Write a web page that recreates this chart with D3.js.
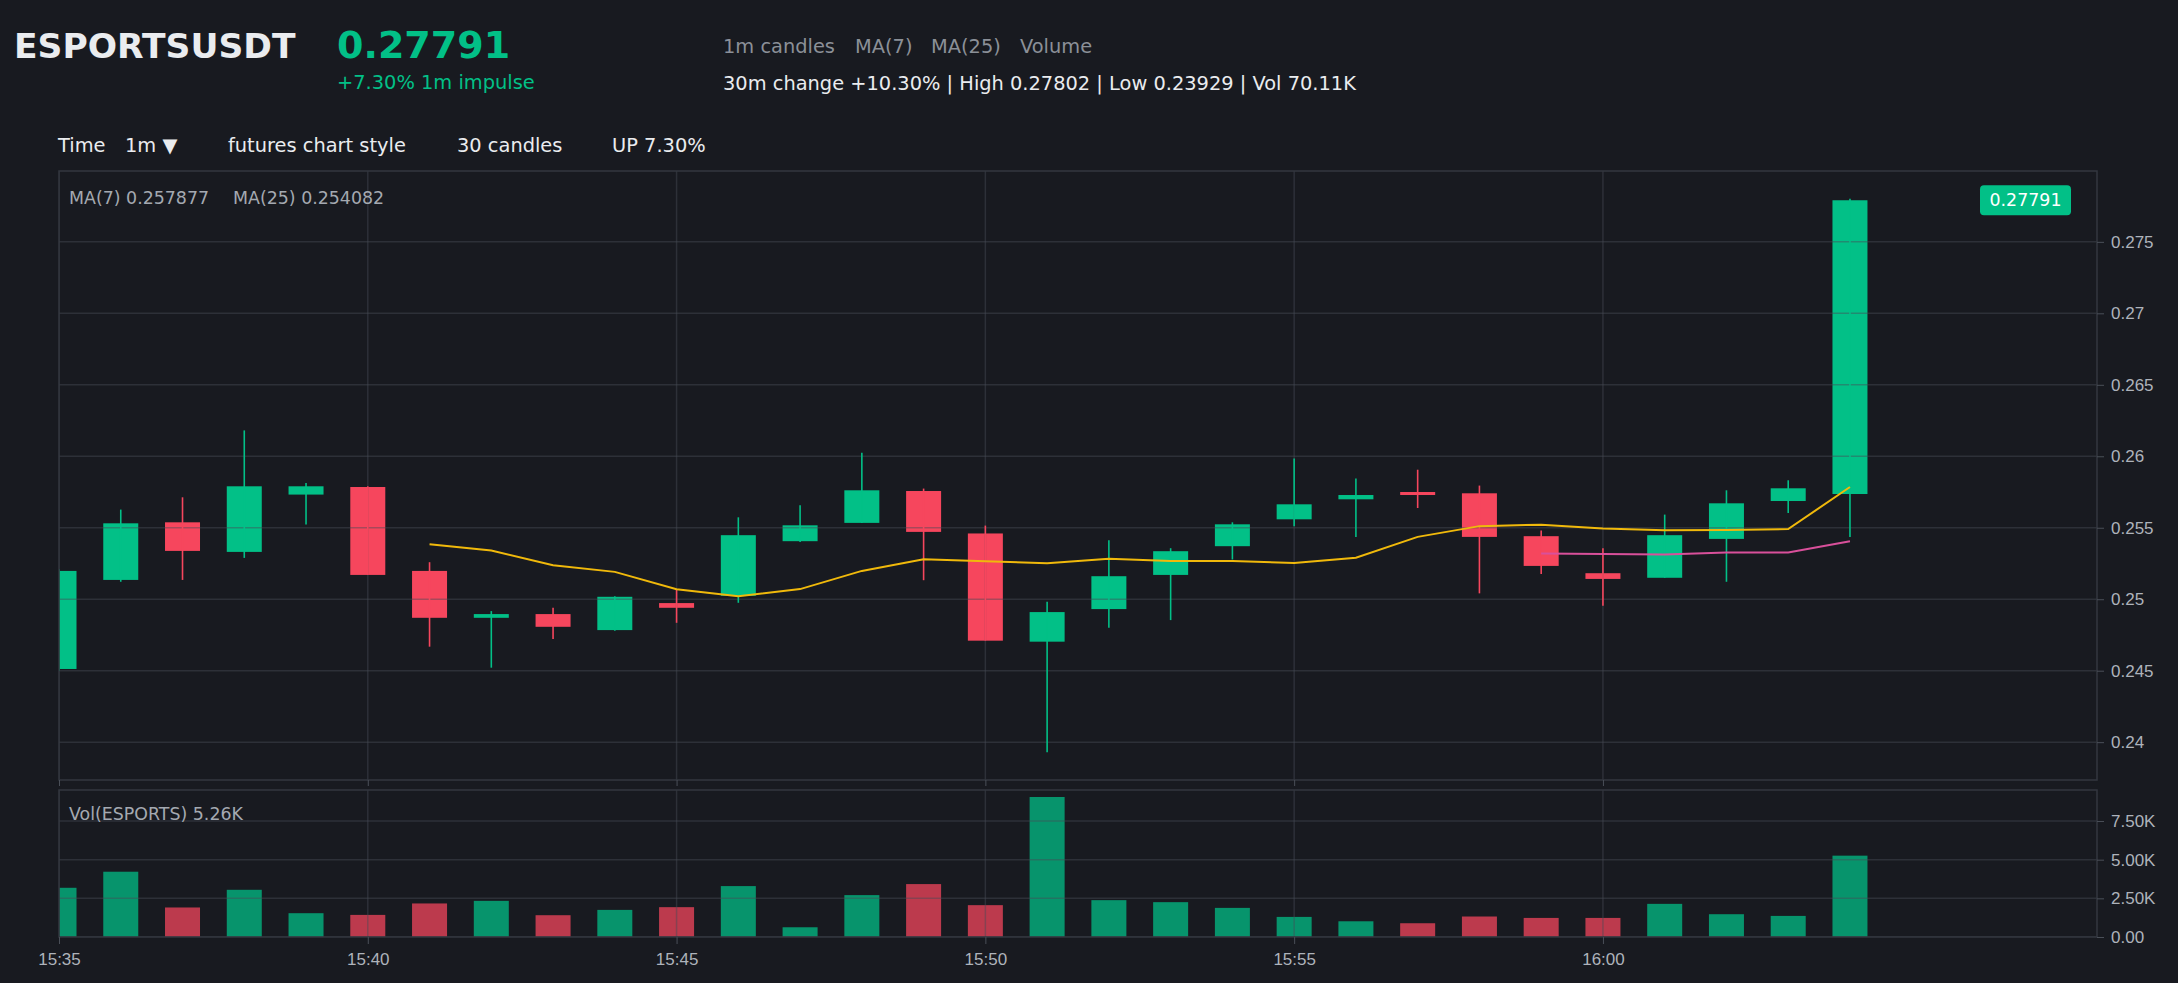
<!DOCTYPE html>
<html lang="en">
<head>
<meta charset="utf-8">
<title>ESPORTSUSDT 1m</title>
<script src="https://d3js.org/d3.v7.min.js"></script>
<style>
  html, body { margin: 0; padding: 0; background: #181a20; }
  svg { display: block; font-family: "DejaVu Sans", sans-serif; }
  .axis path { display: none; }
  .axis line { stroke: #4a4f58; }
  .axis text { fill: #aeb3bb; font-size: 17px; }
</style>
</head>
<body>
<script>
// candle times (minutes after 15:35)
var minutes = d3.range(0, 30);
var opens  = [0.24512, 0.25135, 0.25538, 0.25331, 0.25732, 0.25785, 0.25198, 0.2487, 0.24896, 0.24784,
              0.24973, 0.25024, 0.25406, 0.25534, 0.25757, 0.2546, 0.24703, 0.24931, 0.2517, 0.25371,
              0.25559, 0.25699, 0.2575, 0.25741, 0.25441, 0.25182, 0.2515, 0.25422, 0.25687, 0.25736];
var highs  = [0.2521, 0.25627, 0.25713, 0.26181, 0.25813, 0.2579, 0.25259, 0.24917, 0.2494, 0.2502,
              0.25071, 0.25573, 0.25657, 0.26025, 0.25774, 0.25515, 0.24982, 0.25413, 0.25357, 0.25538,
              0.25985, 0.25844, 0.25906, 0.25795, 0.2548, 0.25357, 0.25592, 0.25762, 0.25832, 0.27802];
var lows   = [0.2450, 0.25122, 0.25135, 0.25289, 0.25522, 0.2517, 0.24668, 0.24521, 0.24721, 0.24779,
              0.24835, 0.24975, 0.2540, 0.25534, 0.25133, 0.2471, 0.23929, 0.248, 0.24854, 0.25278,
              0.2551, 0.25436, 0.25638, 0.25041, 0.25177, 0.24954, 0.2515, 0.25122, 0.25603, 0.25436];
var closes = [0.25198, 0.25531, 0.25338, 0.2579, 0.2579, 0.2517, 0.2487, 0.24896, 0.24807, 0.25017,
              0.2494, 0.25448, 0.25517, 0.25762, 0.25471, 0.2471, 0.2491, 0.25161, 0.25336, 0.25524,
              0.25664, 0.25729, 0.25729, 0.25436, 0.25233, 0.25142, 0.25448, 0.25671, 0.25776, 0.27791];
var volumes = [3182, 4221, 1909, 3052, 1539, 1429, 2169, 2338, 1409, 1753,
               1929, 3292, 630, 2708, 3422, 2059, 9053, 2383, 2253, 1883,
               1299, 1017, 890, 1325, 1234, 1234, 2143, 1474, 1364, 5260];
// moving averages as drawn (null before enough candles)
var ma7 = [null, null, null, null, null, null, 0.253839, 0.253407, 0.252373, 0.251914,
           0.2507, 0.250211, 0.250707, 0.251981, 0.252803, 0.252664, 0.252511, 0.252827, 0.252667, 0.252677,
           0.252537, 0.252906, 0.254361, 0.255113, 0.255216, 0.254939, 0.25483, 0.25484, 0.254907, 0.257853];
var ma25 = [null, null, null, null, null, null, null, null, null, null,
            null, null, null, null, null, null, null, null, null, null,
            null, null, null, null, 0.253191, 0.253168, 0.253135, 0.253268, 0.253263, 0.254063];
var priceTicks = [0.24, 0.245, 0.25, 0.255, 0.26, 0.265, 0.27, 0.275];
var volTicks = [0, 2500, 5000, 7500];
var timeTicks = [0, 5, 10, 15, 20, 25];

var w = 2178, h = 983;
var left = 59, right = 2097;
var pTop = 171, pBot = 780, vTop = 790, vBot = 937;
var green = "#02c087", red = "#f6465d";
var t0 = new Date(2024, 0, 1, 15, 35);
function t(m) { return new Date(t0.getTime() + m * 60000); }

var candles = minutes.map(function(m, i) {
  return { time: t(m), o: opens[i], h: highs[i], l: lows[i], c: closes[i], v: volumes[i], ma7: ma7[i], ma25: ma25[i] };
});

var lo = d3.min(lows), hi = d3.max(highs), pad = (hi - lo) * 0.05;
var xScale = d3.scaleTime().domain([t(0), t(33)]).range([left, right]);
var yScale = d3.scaleLinear().domain([lo - pad, hi + pad]).range([pBot, pTop]);
var vScale = d3.scaleLinear().domain([0, d3.max(volumes) * 1.05]).range([vBot, vTop]);
var bw = 35;

var svg = d3.select("body").append("svg").attr("width", w).attr("height", h);
svg.append("rect").attr("width", w).attr("height", h).attr("fill", "#181a20");

var defs = svg.append("defs");
defs.append("clipPath").attr("id", "clipP").append("rect")
  .attr("x", left).attr("y", pTop).attr("width", right - left).attr("height", pBot - pTop);
defs.append("clipPath").attr("id", "clipV").append("rect")
  .attr("x", left).attr("y", vTop).attr("width", right - left).attr("height", vBot - vTop);

//Header texts
function txt(x, y, s, size, fill, weight) {
  return svg.append("text").attr("x", x).attr("y", y).text(s)
    .attr("font-size", size).attr("fill", fill).attr("font-weight", weight || "normal");
}
txt(14, 58, "ESPORTSUSDT", 34.5, "#eaecef", "bold");
txt(337, 58, "0.27791", 38, green, "bold");
txt(337, 89, "+7.30% 1m impulse", 19.4, green);
txt(723, 53, "1m candles", 19.4, "#8b9098");
txt(855, 53, "MA(7)", 19.4, "#8b9098");
txt(931, 53, "MA(25)", 19.4, "#8b9098");
txt(1020, 53, "Volume", 19.4, "#8b9098");
txt(723, 90, "30m change +10.30% | High 0.27802 | Low 0.23929 | Vol 70.11K", 19.4, "#eaecef");
txt(58, 152, "Time", 19.4, "#eaecef");
txt(125, 152, "1m \u25BC", 19.4, "#eaecef");
txt(228, 152, "futures chart style", 19.4, "#eaecef");
txt(457, 152, "30 candles", 19.4, "#eaecef");
txt(612, 152, "UP 7.30%", 19.4, "#eaecef");

//Price panel: bodies, then grid, then wicks
var gP = svg.append("g").attr("clip-path", "url(#clipP)");
gP.selectAll("rect.body").data(candles).enter().append("rect")
  .attr("class", "body")
  .attr("x", function(d) { return xScale(d.time) - bw / 2; })
  .attr("y", function(d) { return yScale(Math.max(d.o, d.c)); })
  .attr("width", bw)
  .attr("height", function(d) { return Math.max(1.5, Math.abs(yScale(d.o) - yScale(d.c))); })
  .attr("fill", function(d) { return d.c >= d.o ? green : red; });

var gridColor = "rgba(72,76,86,0.45)";
gP.selectAll("line.hg").data(priceTicks).enter().append("line")
  .attr("x1", left).attr("x2", right)
  .attr("y1", function(d) { return yScale(d); }).attr("y2", function(d) { return yScale(d); })
  .attr("stroke", gridColor).attr("stroke-width", 1.5);
gP.selectAll("line.vg").data(timeTicks).enter().append("line")
  .attr("x1", function(d) { return xScale(t(d)); }).attr("x2", function(d) { return xScale(t(d)); })
  .attr("y1", pTop).attr("y2", pBot)
  .attr("stroke", gridColor).attr("stroke-width", 1.5);

gP.selectAll("line.wick").data(candles).enter().append("line")
  .attr("x1", function(d) { return xScale(d.time); }).attr("x2", function(d) { return xScale(d.time); })
  .attr("y1", function(d) { return yScale(d.h); }).attr("y2", function(d) { return yScale(d.l); })
  .attr("stroke", function(d) { return d.c >= d.o ? green : red; })
  .attr("stroke-width", 1.6);

var line7 = d3.line().defined(function(d) { return d.ma7 != null; })
  .x(function(d) { return xScale(d.time); }).y(function(d) { return yScale(d.ma7); });
var line25 = d3.line().defined(function(d) { return d.ma25 != null; })
  .x(function(d) { return xScale(d.time); }).y(function(d) { return yScale(d.ma25); });
gP.append("path").datum(candles).attr("d", line7)
  .attr("fill", "none").attr("stroke", "#f0b90b").attr("stroke-width", 2);
gP.append("path").datum(candles).attr("d", line25)
  .attr("fill", "none").attr("stroke", "#d9509b").attr("stroke-width", 2);

//Volume panel
var gV = svg.append("g").attr("clip-path", "url(#clipV)");
gV.selectAll("rect.vol").data(candles).enter().append("rect")
  .attr("x", function(d) { return xScale(d.time) - bw / 2; })
  .attr("y", function(d) { return vScale(d.v); })
  .attr("width", bw)
  .attr("height", function(d) { return vBot - vScale(d.v); })
  .attr("fill", function(d) { return d.c >= d.o ? green : red; })
  .attr("fill-opacity", 0.74);
gV.selectAll("line.hg").data(volTicks).enter().append("line")
  .attr("x1", left).attr("x2", right)
  .attr("y1", function(d) { return vScale(d); }).attr("y2", function(d) { return vScale(d); })
  .attr("stroke", gridColor).attr("stroke-width", 1.5);
gV.selectAll("line.vg").data(timeTicks).enter().append("line")
  .attr("x1", function(d) { return xScale(t(d)); }).attr("x2", function(d) { return xScale(t(d)); })
  .attr("y1", vTop).attr("y2", vBot)
  .attr("stroke", gridColor).attr("stroke-width", 1.5);

//Panel borders
[[pTop, pBot], [vTop, vBot]].forEach(function(p) {
  svg.append("rect").attr("x", left).attr("y", p[0]).attr("width", right - left).attr("height", p[1] - p[0])
    .attr("fill", "none").attr("stroke", "#33373f").attr("stroke-width", 1.5);
});

//Axes
var yAxis = d3.axisRight(yScale).tickValues(priceTicks).tickSize(7).tickPadding(7)
  .tickFormat(function(d) { return String(+d.toFixed(3)); });
svg.append("g").attr("class", "axis").attr("transform", "translate(" + right + ",0)").call(yAxis);

var vAxis = d3.axisRight(vScale).tickValues(volTicks).tickSize(7).tickPadding(7)
  .tickFormat(function(d) { return d === 0 ? "0.00" : (d / 1000).toFixed(2) + "K"; });
svg.append("g").attr("class", "axis").attr("transform", "translate(" + right + ",0)").call(vAxis);

var xAxisTop = d3.axisBottom(xScale).tickValues(timeTicks.map(t)).tickSize(6).tickFormat("");
svg.append("g").attr("class", "axis").attr("transform", "translate(0," + pBot + ")").call(xAxisTop);

var xAxis = d3.axisBottom(xScale).tickValues(timeTicks.map(t)).tickSize(7).tickPadding(9)
  .tickFormat(d3.timeFormat("%H:%M"));
svg.append("g").attr("class", "axis").attr("transform", "translate(0," + vBot + ")").call(xAxis);

//Panel captions
txt(69, 204, "MA(7) 0.257877", 17.4, "#a4a9b1");
txt(233, 204, "MA(25) 0.254082", 17.4, "#a4a9b1");
txt(69, 820, "Vol(ESPORTS) 5.26K", 17.4, "#a4a9b1");

//Last price badge
var last = candles[candles.length - 1];
var by = yScale(last.c);
svg.append("rect").attr("x", 1980).attr("y", by - 15).attr("width", 91).attr("height", 30)
  .attr("rx", 4).attr("fill", green);
svg.append("text").attr("x", 2025.5).attr("y", by + 6).attr("text-anchor", "middle")
  .attr("font-size", 17.4).attr("fill", "#ffffff").text(last.c.toFixed(5));
</script>
</body>
</html>
